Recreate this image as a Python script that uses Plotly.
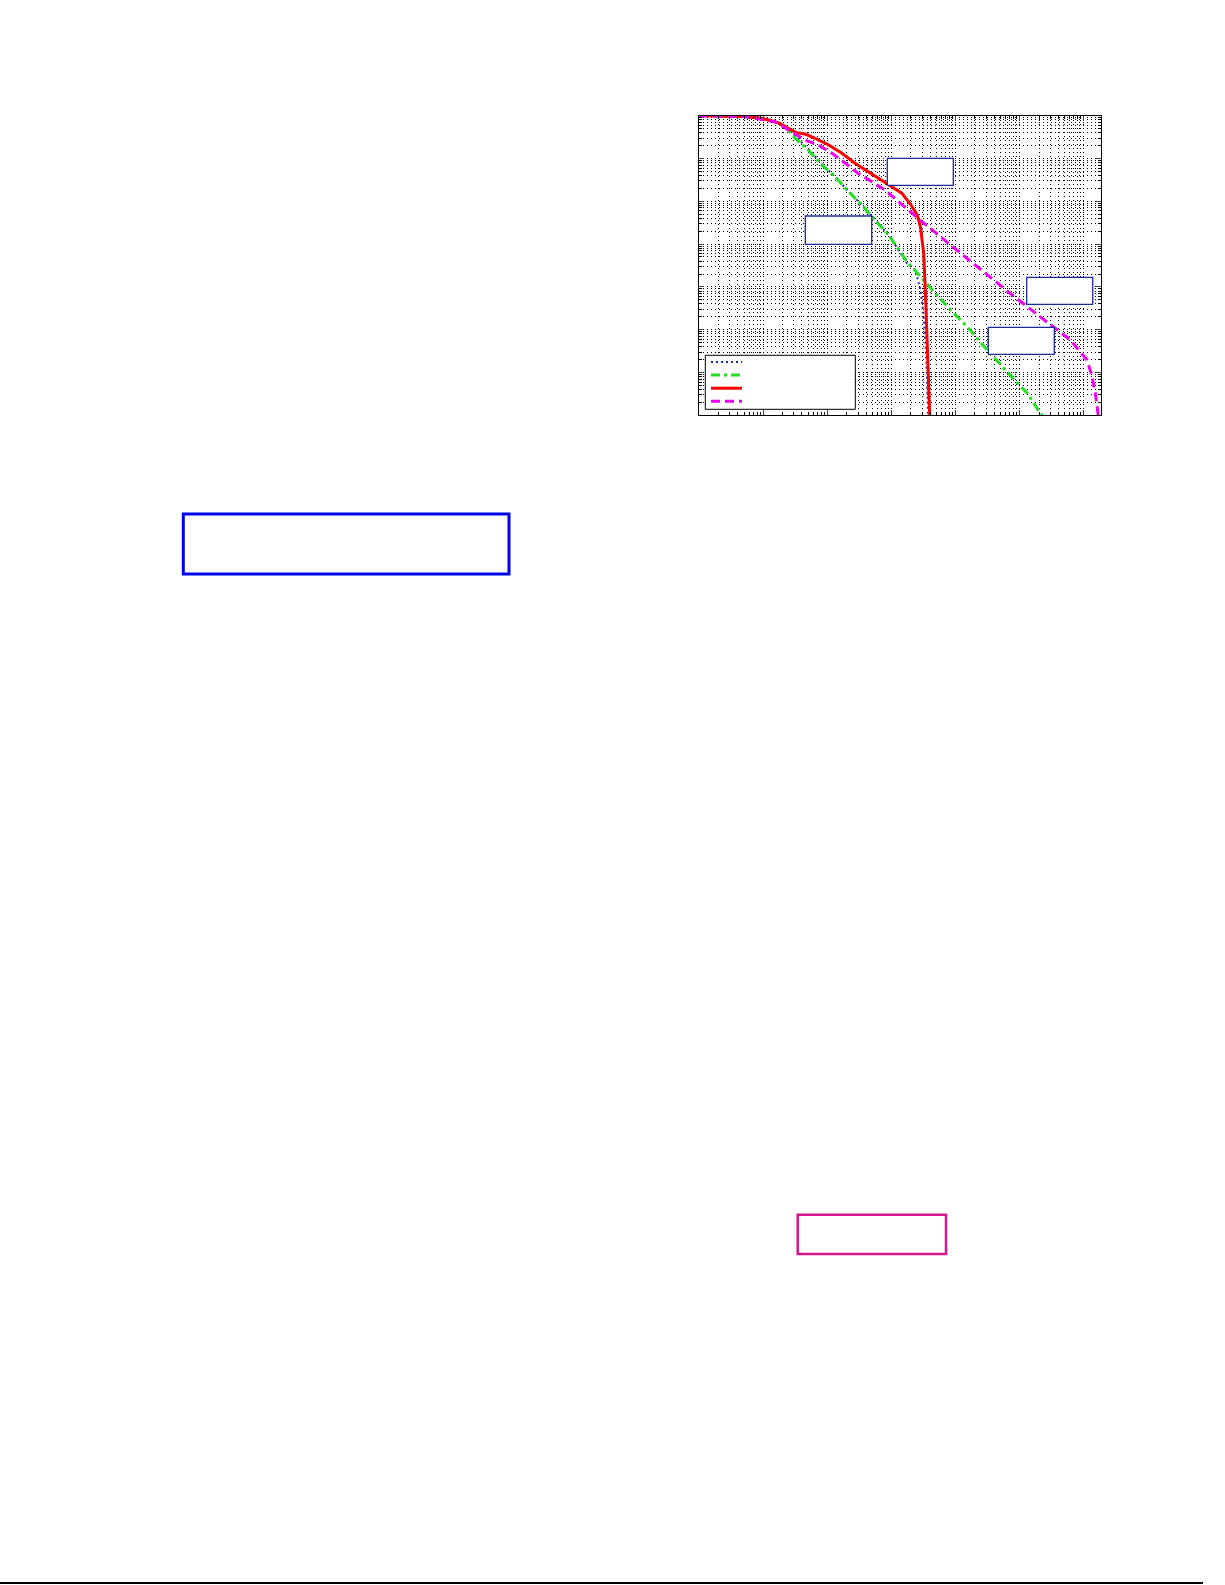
import plotly.graph_objects as go

W, H = 1225, 1585

# CCDF curves
blue_x = [1, 5.13, 13.5, 22.4, 32.4, 51.3, 83.2, 131.8, 213.8, 346.7, 555.9, 912, 1738, 2344, 2818, 3090, 3281, 3388, 3548, 3715]
blue_y = [1, 0.96, 0.80, 0.575, 0.316, 0.162, 0.0724, 0.0376, 0.0168, 0.00813, 0.00363, 0.00158, 3.55e-4, 2.51e-4, 8.5e-5, 2.88e-5, 1e-5, 5e-6, 1e-6, 1e-7]

green_x = [1, 5.13, 13.5, 21.9, 31.6, 50.1, 81.3, 131.8, 213.8, 346.7, 555.9, 912, 1738, 3548, 7413, 15136, 30903, 63096, 131826, 208930, 223872]
green_y = [1, 0.955, 0.794, 0.553, 0.295, 0.158, 0.0708, 0.0376, 0.0168, 0.00813, 0.00363, 0.00158, 3.89e-4, 1.2e-4, 3.47e-5, 1.17e-5, 3.39e-6, 1.05e-6, 3.24e-7, 1.12e-7, 1e-7]

red_x = [1, 5.2, 9.4, 17.1, 24.5, 33.1, 44.7, 64.6, 104.7, 168, 269, 437, 708, 1014, 1445, 1995, 2512, 2818, 2985, 3162, 3365, 3548, 3890, 3936]
red_y = [1, 0.955, 0.871, 0.687, 0.507, 0.398, 0.372, 0.295, 0.2065, 0.132, 0.0776, 0.049, 0.0316, 0.0219, 0.0155, 0.0083, 0.00479, 0.00257, 0.00126, 6.3e-4, 8.5e-5, 5.75e-6, 1.12e-7, 1e-7]

magenta_x = [1, 5.13, 15.1, 27.5, 44.7, 72.4, 117.5, 190.5, 302, 490, 794, 1288, 2089, 3020, 8318, 24547, 70795, 208930, 616595, 1122018, 1348963, 1513561, 1659587, 1678804]
magenta_y = [1, 0.955, 0.724, 0.427, 0.269, 0.2065, 0.132, 0.0776, 0.0447, 0.0288, 0.0182, 0.00977, 0.00525, 0.00331, 9.55e-4, 2.51e-4, 7.08e-5, 2e-5, 5.75e-6, 1.95e-6, 7.94e-7, 3.24e-7, 1.2e-7, 1e-7]

series_colors = ["#1a2a9c", "#22e022", "#ff0000", "#ee00ee"]
series_dash = ["2px,3px", "9px,4px,3px,4px", "solid", "9px,5px"]
series_width = [2, 3, 3, 3]


def fx(p):
    return p / W


def fy(p):
    return 1 - p / H


fig = go.Figure()
for xs, ys, c, d, w in zip([blue_x, green_x, red_x, magenta_x], [blue_y, green_y, red_y, magenta_y],
                           series_colors, series_dash, series_width):
    fig.add_trace(go.Scatter(x=xs, y=ys, mode="lines", showlegend=False,
                             line=dict(color=c, width=w, dash=d)))

axis_common = dict(type="log", showticklabels=False, ticks="inside", ticklen=5,
                   showline=True, linecolor="black", linewidth=1, mirror="ticks",
                   zeroline=False, dtick=1,
                   showgrid=True, gridcolor="black", griddash="1px,3px", gridwidth=1,
                   minor=dict(ticks="inside", ticklen=3, tickcolor="black",
                              showgrid=True, gridcolor="black", griddash="1px,3px", gridwidth=1))

fig.update_xaxes(range=[0, 6.26], domain=[fx(699.3), fx(1100.5)], **axis_common)
fig.update_yaxes(range=[-7, 0], domain=[fy(415.3), fy(115.7)], **axis_common)

shapes = []
# empty label boxes inside the plot
for x0, y0, x1, y1 in [(887.3, 158.3, 953.3, 185.3), (805.3, 216, 871.7, 244.3),
                       (1026.7, 277.3, 1092.7, 304.3), (988.3, 327.3, 1054.3, 354.3)]:
    shapes.append(dict(type="rect", xref="paper", yref="paper",
                       x0=fx(x0), x1=fx(x1), y0=fy(y1), y1=fy(y0),
                       line=dict(color="#1c2a9a", width=1.3), fillcolor="white", layer="above"))

# legend box with line samples (no text)
shapes.append(dict(type="rect", xref="paper", yref="paper",
                   x0=fx(705.3), x1=fx(855.3), y0=fy(409.3), y1=fy(355.3),
                   line=dict(color="black", width=1), fillcolor="white", layer="above"))
for i, (c, d, w) in enumerate(zip(series_colors, series_dash, series_width)):
    yy = 362 + i * 13.1
    shapes.append(dict(type="line", xref="paper", yref="paper",
                       x0=fx(711), x1=fx(742), y0=fy(yy), y1=fy(yy),
                       line=dict(color=c, width=w, dash=d), layer="above"))

# page boxes
shapes.append(dict(type="rect", xref="paper", yref="paper",
                   x0=fx(183.3), x1=fx(509), y0=fy(574), y1=fy(514),
                   line=dict(color="#0000ee", width=3)))
shapes.append(dict(type="rect", xref="paper", yref="paper",
                   x0=fx(797.7), x1=fx(946), y0=fy(1254), y1=fy(1214.7),
                   line=dict(color="#d8168c", width=2.5)))
# rule at bottom of page
shapes.append(dict(type="line", xref="paper", yref="paper",
                   x0=0, x1=fx(1203), y0=fy(1583), y1=fy(1583),
                   line=dict(color="black", width=2)))

fig.update_layout(
    width=W, height=H,
    margin=dict(l=0, r=0, t=0, b=0),
    paper_bgcolor="white", plot_bgcolor="white",
    shapes=shapes,
    showlegend=False,
)

fig.write_html("out.html", config={"displayModeBar": False},
               post_script="document.body.style.margin='0';")
